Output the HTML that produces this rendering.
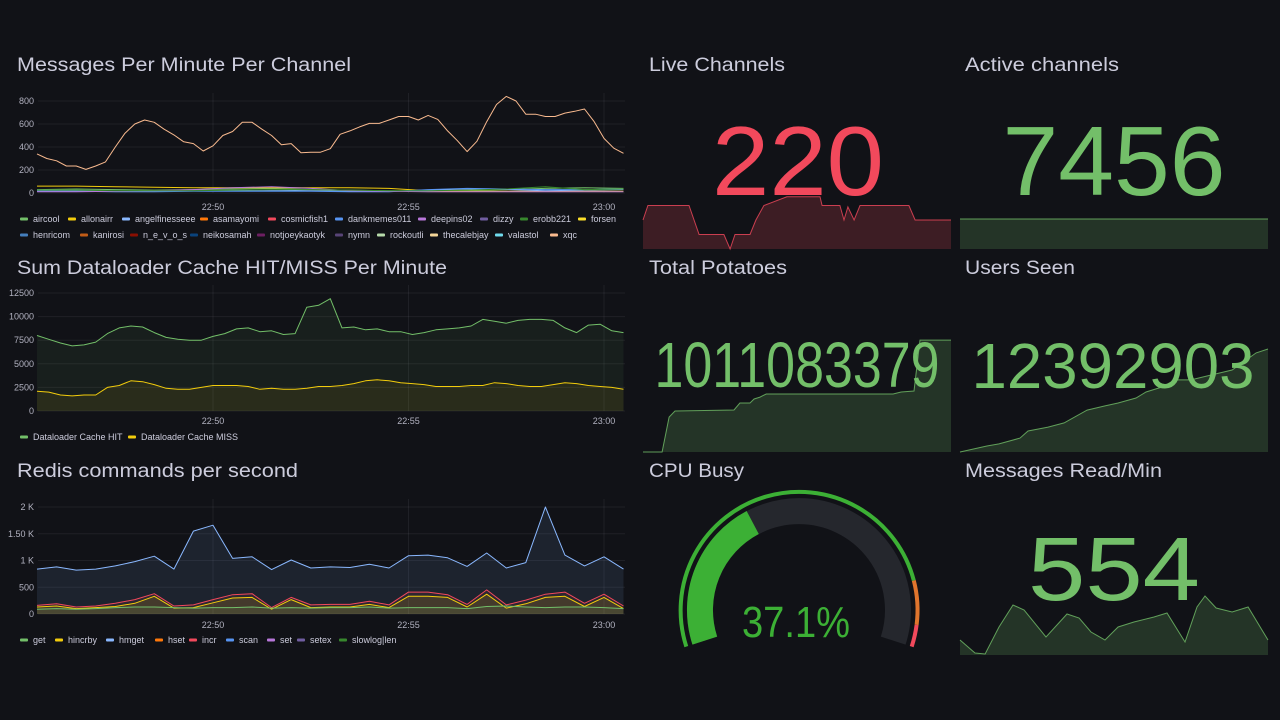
<!DOCTYPE html>
<html><head><meta charset="utf-8"><style>
html,body{margin:0;padding:0;background:#111217;}
svg{display:block;font-family:"Liberation Sans",sans-serif;}
</style></head><body>
<svg id="s" width="1280" height="720" viewBox="0 0 1280 720">
<rect x="0" y="0" width="1280" height="720" fill="#111217"/>
<g fill="#ccccdc" font-size="19">
<text x="17" y="71" textLength="334" lengthAdjust="spacingAndGlyphs">Messages Per Minute Per Channel</text>
<text x="17" y="274" textLength="430" lengthAdjust="spacingAndGlyphs">Sum Dataloader Cache HIT/MISS Per Minute</text>
<text x="17" y="477" textLength="281" lengthAdjust="spacingAndGlyphs">Redis commands per second</text>
<text x="649" y="71" textLength="136" lengthAdjust="spacingAndGlyphs">Live Channels</text>
<text x="965" y="71" textLength="154" lengthAdjust="spacingAndGlyphs">Active channels</text>
<text x="649" y="274" textLength="138" lengthAdjust="spacingAndGlyphs">Total Potatoes</text>
<text x="965" y="274" textLength="110" lengthAdjust="spacingAndGlyphs">Users Seen</text>
<text x="649" y="477" textLength="95" lengthAdjust="spacingAndGlyphs">CPU Busy</text>
<text x="965" y="477" textLength="197" lengthAdjust="spacingAndGlyphs">Messages Read/Min</text>
</g>
<g id="layer"></g>
</svg>
<script>
// ---- Panel 1: Messages per minute (t in minutes past 22:00) ----
const xqcValues=[340,300,280,235,235,205,235,270,400,520,600,635,615,555,505,445,430,365,410,500,535,615,615,555,500,420,430,350,355,355,385,510,540,575,605,605,635,665,665,635,675,640,540,455,360,450,620,770,840,800,685,685,665,665,695,710,730,620,475,390,345];
const smallTimes=[45.5,46.5,47.5,48.5,49.5,50.5,51.5,52.5,53.5,54.5,55.5,56.5,57.5,58.5,59.5,60.5];
const aircoolValues=[30,35,30,25,30,35,40,30,25,20,15,20,30,40,45,40];
const allonairrValues=[60,60,55,50,45,45,45,45,45,40,20,15,15,15,15,15];
const angelValues=[20,20,15,15,20,20,25,20,15,15,25,35,30,20,25,30];
const dankValues=[15,15,10,10,15,15,15,15,10,10,30,40,35,30,30,35];
const notjoeyValues=[10,10,15,20,30,45,55,40,20,15,10,10,10,10,10,10];
const erobbValues=[25,25,20,20,20,25,30,30,25,20,20,25,35,55,30,35];
const p1Ticks=[0,200,400,600,800];
const timeTicks=[50,55,60];
const timeLabels=["22:50","22:55","23:00"];
// ---- Panel 2: Dataloader ----
const hitValues=[8000,7600,7200,6900,7000,7300,8200,8800,9000,8900,8300,7800,7600,7500,7500,7900,8200,8700,8800,8400,8500,8100,8200,11000,11200,11900,8800,8900,8600,8700,8400,8400,8100,8300,8600,8700,8800,9000,9700,9500,9300,9600,9700,9700,9600,8800,8300,9100,9200,8500,8300];
const missValues=[2100,2000,1700,1600,1700,1700,2500,2700,3200,3100,2800,2400,2300,2300,2500,2700,2700,2700,2600,2300,2400,2300,2300,2400,2600,2600,2700,2900,3200,3300,3200,3000,2900,2800,2600,2600,2600,2700,2700,3000,2900,2700,2600,2600,2800,3000,2900,2700,2600,2500,2300];
const p2Ticks=[0,2500,5000,7500,10000,12500];
// ---- Panel 3: Redis ----
const hmgetValues=[840,880,820,840,900,980,1080,840,1550,1660,1040,1070,830,1010,860,880,870,930,860,1090,1100,1050,890,1140,860,960,2000,1100,900,1070,840];
const incrValues=[160,190,130,150,200,270,380,150,170,270,360,380,120,310,170,180,180,240,170,410,410,360,180,450,170,260,370,410,200,370,150];
const hincrbyValues=[130,150,100,120,140,200,330,110,120,210,300,310,90,270,120,130,130,180,120,330,330,310,130,370,110,190,310,330,140,310,100];
const getValues=[90,100,90,100,120,130,130,120,110,120,120,130,110,120,110,120,120,130,110,120,120,120,100,140,150,130,120,130,130,120,100];
const p3Ticks=[0,500,1000,1500,2000];
const p3Labels=["0","500","1 K","1.50 K","2 K"];
// ---- Stat sparklines (t in minutes 0..15) ----
const liveTimes=[0,0.24,2.24,2.73,3.94,4.24,4.48,5.21,5.5,5.89,7.01,8.62,8.72,9.59,9.79,9.98,10.28,10.57,12.95,13.25,15];
const liveValues=[220,230,230,210,210,200,210,210,220,230,236,236,230,230,220,229,220,230,230,220,220];
const activeTimes=[0,15];
const activeValues=[7456,7456];
const potatoTimes=[0,0.93,1.27,1.56,4.43,4.72,5.21,5.41,5.7,6.0,12.18,12.57,13.2,13.49,15];
const potatoValues=[1000,1000,1003.46,1004.06,1004.16,1004.85,1004.85,1005.25,1005.44,1005.74,1005.74,1005.94,1006.04,1011.08,1011.08];
const usersTimes=[0,1.31,1.9,2.92,3.31,4.29,5.07,6.19,7.06,7.7,8.57,9.06,9.84,10.47,11.25,12.23,13.25,14.42,15];
const usersValues=[12000,12023,12031,12053,12080,12095,12111,12160,12176,12187,12206,12229,12248,12275,12275,12294,12313,12378,12393];
const readTimes=[0,0.73,1.22,1.9,2.58,3.12,4.19,5.21,5.8,6.38,7.06,7.7,8.47,9.45,10.08,10.96,11.54,11.93,12.47,13.25,14.03,15];
const readValues=[375,310,305,440,550,525,390,505,485,415,375,440,465,490,510,365,540,595,535,515,540,375];
const cpuValue=37.1;
const cpuThresholds=[85,95];

const NS="http://www.w3.org/2000/svg";
const layer=document.getElementById('layer');
function mk(tag,attrs,parent){const e=document.createElementNS(NS,tag);for(const k in attrs)e.setAttribute(k,attrs[k]);(parent||layer).appendChild(e);return e;}
function pathFrom(ts,vs,xf,yf){return ts.map((t,i)=>(i?'L':'M')+xf(t).toFixed(1)+','+yf(vs[i]).toFixed(1)).join('');}
function seq(start,step,n){const a=[];for(let i=0;i<n;i++)a.push(start+i*step);return a;}
const txf=t=>213+(t-50)*39.1;
const axisCol="#ccccdc";

function drawAxes(ticks,labels,yf,xlabY,name){
  ticks.forEach((v,i)=>{
    const y=yf(v);
    const g=mk('line',{x1:38,x2:625,y1:y,y2:y,stroke:'rgba(204,204,220,0.08)','stroke-width':1});
    
    
    const t=mk('text',{x:34,y:y+3,'text-anchor':'end','font-size':9,fill:axisCol,opacity:0.85});
    t.textContent=labels[i];
    
    
  });
  timeTicks.forEach((tt,i)=>{
    const x=txf(tt);
    const g=mk('line',{x1:x,x2:x,y1:yf(ticks[ticks.length-1])-8,y2:yf(0),stroke:'rgba(204,204,220,0.08)','stroke-width':1});
    
    
    const t=mk('text',{x:x,y:xlabY,'text-anchor':'middle','font-size':9,fill:axisCol,opacity:0.85});
    t.textContent=timeLabels[i];
    
    
  });
}
function series(ts,vs,yf,color,fillOp,name,xf){
  xf=xf||txf;
  const d=pathFrom(ts,vs,xf,yf);
  if(fillOp>0){
    const a=mk('path',{d:d+'L'+xf(ts[ts.length-1]).toFixed(1)+','+yf(0)+'L'+xf(ts[0]).toFixed(1)+','+yf(0)+'Z',fill:color,'fill-opacity':fillOp,stroke:'none'});
    
    
  }
  const l=mk('path',{d:d,fill:'none',stroke:color,'stroke-width':1,'stroke-linejoin':'round'});
  
  
}
function legend(items,y){
  items.forEach(it=>{
    const r=mk('rect',{x:it[0],y:y-1.5,width:8,height:3,rx:1,fill:it[2]});
    
    
    const t=mk('text',{x:it[0]+13,y:y+3,'font-size':9,fill:axisCol});
    t.textContent=it[1];
    
    
  });
}

// Panel 1
const y1=v=>193-v*0.115;
drawAxes(p1Ticks,p1Ticks.map(String),y1,210,'messages');
const t1=seq(45.5,0.25,xqcValues.length);
series(smallTimes,aircoolValues,y1,'#73BF69',0,'aircool');
series(smallTimes,allonairrValues,y1,'#F2CC0C',0,'allonairr');
series(smallTimes,angelValues,y1,'#8AB8FF',0,'angelfinesseee');
series(smallTimes,dankValues,y1,'#5794F2',0,'dankmemes011');
series(smallTimes,notjoeyValues,y1,'#B877D9',0,'notjoeykaotyk');
series(smallTimes,erobbValues,y1,'#37872D',0,'erobb221');
series(t1,xqcValues,y1,'#F9BA8F',0,'xqc');
legend([[20,'aircool','#73BF69'],[68,'allonairr','#F2CC0C'],[122,'angelfinesseee','#8AB8FF'],[200,'asamayomi','#FF780A'],[268,'cosmicfish1','#F2495C'],[335,'dankmemes011','#5794F2'],[418,'deepins02','#B877D9'],[480,'dizzy','#705DA0'],[520,'erobb221','#37872D'],[578,'forsen','#FADE2A']],219);
legend([[20,'henricom','#447EBC'],[80,'kanirosi','#C15C17'],[130,'n_e_v_o_s','#890F02'],[190,'neikosamah','#0A437C'],[257,'notjoeykaotyk','#6D1F62'],[335,'nymn','#584477'],[377,'rockoutli','#B7DBAB'],[430,'thecalebjay','#F4D598'],[495,'valastol','#70DBED'],[550,'xqc','#F9BA8F']],235);

// Panel 2
const y2=v=>411-v*(118/12500);
drawAxes(p2Ticks,p2Ticks.map(String),y2,424,'dataloader');
const t2=seq(45.5,0.3,hitValues.length);
series(t2,hitValues,y2,'#73BF69',0.08,'cache-hit');
series(t2,missValues,y2,'#F2CC0C',0.08,'cache-miss');
legend([[20,'Dataloader Cache HIT','#73BF69'],[128,'Dataloader Cache MISS','#F2CC0C']],437);

// Panel 3
const y3=v=>614-v*(107/2000);
drawAxes(p3Ticks,p3Labels,y3,628,'redis');
const t3=seq(45.5,0.5,hmgetValues.length);
series(t3,hmgetValues,y3,'#8AB8FF',0.1,'hmget');
series(t3,incrValues,y3,'#F2495C',0.08,'incr');
series(t3,hincrbyValues,y3,'#F2CC0C',0.12,'hincrby');
series(t3,getValues,y3,'#73BF69',0.1,'get');
legend([[20,'get','#73BF69'],[55,'hincrby','#F2CC0C'],[106,'hmget','#8AB8FF'],[155,'hset','#FF780A'],[189,'incr','#F2495C'],[226,'scan','#5794F2'],[267,'set','#B877D9'],[297,'setex','#705DA0'],[339,'slowlog|len','#37872D']],640);

// Stat sparklines
function spark(ts,vs,x0,x1,yb,yf,color,name){
  const xf=t=>x0+t/15*(x1-x0);
  const d=pathFrom(ts,vs,xf,yf);
  const a=mk('path',{d:d+'L'+x1+','+yb+'L'+x0+','+yb+'Z',fill:color,'fill-opacity':0.2,stroke:'none'});
  
  
  const l=mk('path',{d:d,fill:'none',stroke:color,'stroke-width':1,'stroke-opacity':0.8});
  
  
}
spark(liveTimes,liveValues,643,951,249,v=>249-(v-200)*1.45,'#F2495C','live-channels');
spark(activeTimes,activeValues,960,1268,249,v=>219-(v-7456)*1,'#73BF69','active-channels');
spark(potatoTimes,potatoValues,643,951,452,v=>452-(v-1000)*10.1,'#73BF69','total-potatoes');
spark(usersTimes,usersValues,960,1268,452,v=>452-(v-12000)/3.816,'#73BF69','users-seen');
spark(readTimes,readValues,960,1268,655,v=>655-(v-300)/5,'#73BF69','messages-read');

function big(x,y,txt,len,size,color,name){
  const t=mk('text',{x:x,y:y,'font-size':size,fill:color,'text-anchor':'middle',textLength:len,lengthAdjust:'spacingAndGlyphs'});
  t.textContent=txt;
  
  
}
big(798,195,'220',172,98,'#F2495C','live-channels-value');
big(1114,195,'7456',223,98,'#73BF69','active-channels-value');
big(797,387,'1011083379',285,64,'#73BF69','total-potatoes-value');
big(1113,388,'12392903',283,64,'#73BF69','users-seen-value');
big(1114,600,'554',172,90,'#73BF69','messages-read-value');

// Gauge
const gcx=799,gcy=610,sweep=108;
function arcPath(r,a0,a1){
  const p=a=>[gcx+r*Math.sin(a*Math.PI/180),gcy-r*Math.cos(a*Math.PI/180)];
  const s=p(a0),e=p(a1);const large=(a1-a0)>180?1:0;
  return 'M'+s[0].toFixed(1)+','+s[1].toFixed(1)+'A'+r+','+r+' 0 '+large+' 1 '+e[0].toFixed(1)+','+e[1].toFixed(1);
}
const ang=p=>-sweep+p/100*2*sweep;
let g=mk('path',{d:arcPath(99,ang(0),ang(100)),fill:'none',stroke:'#25272d','stroke-width':26});


g=mk('path',{d:arcPath(99,ang(0),ang(cpuValue)),fill:'none',stroke:'#3cb035','stroke-width':26});


const thr=[[0,cpuThresholds[0],'#3cb035'],[cpuThresholds[0],cpuThresholds[1],'#e0752d'],[cpuThresholds[1],100,'#f2495c']];
thr.forEach(s=>{
  const e=mk('path',{d:arcPath(118.5,ang(s[0]),ang(s[1])),fill:'none',stroke:s[2],'stroke-width':4});
  
  
});
big(796,637,cpuValue.toFixed(1)+'%',108,44,'#3cb035','cpu-busy-value');
</script>
</body></html>
